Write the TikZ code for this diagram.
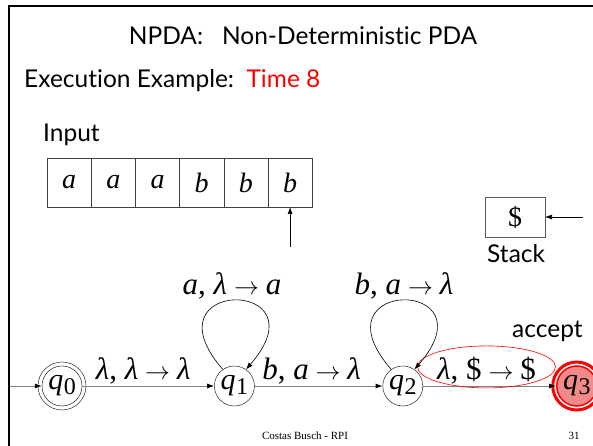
\documentclass[tikz,border=0pt]{standalone}
\usepackage{fontspec}
\setmainfont{Lato}[Ligatures={NoCommon,NoRare}]
\newfontfamily\tms{Liberation Serif}
\usetikzlibrary{arrows.meta,positioning,shapes.geometric}
\definecolor{edgegray}{HTML}{808080}
\definecolor{acceptred}{HTML}{FF0000}
\definecolor{acceptfill}{HTML}{F28A8A}
\tikzset{
  slidetext/.style={font=\fontsize{24.5}{28}\selectfont, inner sep=0pt},
  tapecell/.style={rectangle, draw=black!75, outer sep=0pt,
    minimum width=44.2pt, minimum height=49pt, inner sep=0pt,
    font=\tms\itshape\fontsize{28}{28}\selectfont},
  stackcell/.style={rectangle, draw=black!65, outer sep=0pt,
    minimum width=60pt, minimum height=40pt, inner sep=0pt,
    font=\tms\fontsize{28}{28}\selectfont},
  statenode/.style={circle, draw=black, minimum size=40pt, inner sep=0pt,
    font=\tms\fontsize{30}{30}\selectfont},
  finalstate/.style={statenode, draw=acceptred, fill=acceptfill, line width=1.5pt},
  transarrow/.style={-{Latex[length=7pt,width=5pt,color=black]}, draw=edgegray, line width=0.9pt},
  looparrow/.style={-{Latex[length=7pt,width=5pt]}, draw=black, line width=0.6pt},
  translabel/.style={font=\tms\fontsize{31}{31}\selectfont, inner sep=1pt},
  acceptring/.style={ellipse, draw=acceptred, minimum width=138pt,
    minimum height=42pt, line width=0.6pt},
  footnote/.style={font=\tms\fontsize{11}{11}\selectfont, anchor=base},
}
\newcommand{\qstate}[1]{\textit{q}\kern0.5pt\raisebox{-5pt}{\fontsize{24}{24}\selectfont #1}}
\newcommand{\lam}{\textit{λ}}
\newcommand{\pdaarrow}{\ensuremath{\;\rightarrow\;}}
\begin{document}
\begin{tikzpicture}[x=1pt,y=1pt]
\useasboundingbox (0,0) rectangle (593,446);
\clip (0,0) rectangle (593,446);
\draw[line width=2.5pt] (9,-20) rectangle (640,440);
\node[slidetext, anchor=base] (title) at (303,401) {NPDA:\ \ \ Non-Deterministic PDA};
\node[slidetext, anchor=base west] (exec) at (24,358)
  {Execution Example:\ \ \textcolor{acceptred}{Time 8}};
\node[slidetext, anchor=base west] (inputlbl) at (43,304) {Input};
\node[tapecell] (c1) at (69.1,263.5) {a};
\foreach \i/\s in {2/a,3/a,4/b,5/b,6/b} {
  \pgfmathtruncatemacro\prev{\i-1}
  \node[tapecell, right=0pt of c\prev] (c\i) {\s};
}
\coordinate (head) at ([yshift=-40pt]c6.south);
\draw[looparrow] (head) -- (c6.south);
\node[stackcell] (stacktop) at (515,229) {\$};
\coordinate (stackptr) at (583,229);
\draw[looparrow] (stackptr) -- (stacktop.east);
\node[slidetext, anchor=base west] (stacklbl) at (487,183) {Stack};
\node[statenode] (q0) at (62,60) {\qstate{0}};
\node[statenode, right=132pt of q0] (q1) {\qstate{1}};
\node[statenode, right=128pt of q1] (q2) {\qstate{2}};
\node[finalstate, right=133pt of q2] (q3) {\qstate{3}};
\draw (q0) circle (24pt);
\draw[acceptred, line width=3pt] (q3) circle (24pt);
\coordinate (start) at (10,60);
\draw[transarrow] (start) -- (q0);
\draw[transarrow] (q0) -- node[translabel, above, xshift=-5pt] (l01) {\lam, \lam\pdaarrow\lam} (q1);
\draw[transarrow] (q1) -- node[translabel, above, xshift=-7pt] (l12) {\textit{b}, \textit{a}\pdaarrow\lam} (q2);
\draw[transarrow] (q2) -- node[translabel, above, xshift=-3pt] (l23) {\lam, \$\pdaarrow\$} (q3);
\node[acceptring] (ring) at ([yshift=4pt]l23.center) {};
\node[slidetext, anchor=base west] (acceptlbl) at (512,108) {accept};
\draw[looparrow] (q1.125) .. controls +(-80,92) and +(80,92) .. (q1.55);
\node[translabel, anchor=base] (l11) at (232,151) {\textit{a}, \lam\pdaarrow\textit{a}};
\draw[looparrow] (q2.125) .. controls +(-80,92) and +(80,92) .. (q2.55);
\node[translabel, anchor=base] (l22) at (404,151) {\textit{b}, \textit{a}\pdaarrow\lam};
\node[footnote] (footer) at (305,6) {Costas Busch - RPI};
\node[footnote] (pagenum) at (574,6) {31};
\end{tikzpicture}
\end{document}
